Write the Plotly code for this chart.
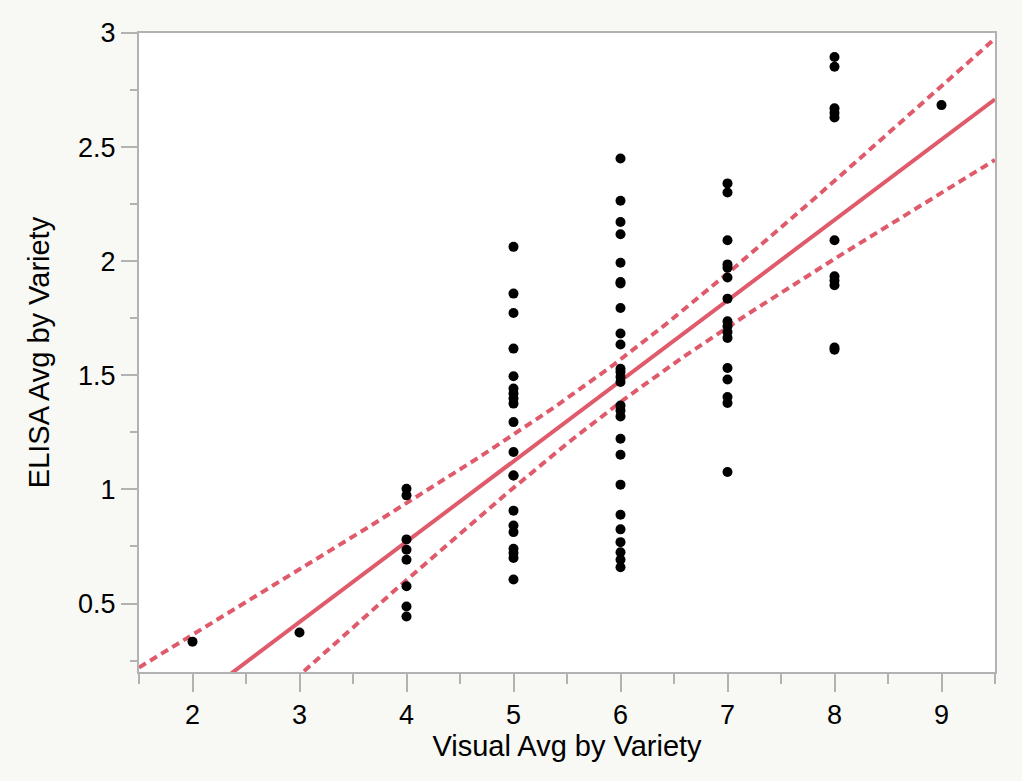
import numpy as np
import plotly.graph_objects as go

# Data
visual_levels = [2, 3, 4, 5, 6, 7, 8, 9]
elisa_by_level = {
    2: [0.333],
    3: [0.373],
    4: [1.003, 0.974, 0.781, 0.736, 0.692, 0.576, 0.487, 0.443],
    5: [2.063, 1.858, 1.773, 1.617, 1.496, 1.442, 1.420, 1.398, 1.376, 1.295,
        1.164, 1.061, 1.061, 0.907, 0.842, 0.813, 0.740, 0.721, 0.700, 0.605],
    6: [2.450, 2.265, 2.172, 2.118, 1.993, 1.909, 1.902, 1.795, 1.683, 1.635,
        1.529, 1.515, 1.493, 1.471, 1.368, 1.346, 1.320, 1.222, 1.152, 1.021,
        0.889, 0.825, 0.769, 0.725, 0.692, 0.659],
    7: [2.341, 2.301, 2.092, 1.986, 1.971, 1.929, 1.836, 1.737, 1.715, 1.690,
        1.664, 1.532, 1.482, 1.405, 1.379, 1.076],
    8: [2.895, 2.852, 2.670, 2.650, 2.630, 2.092, 1.934, 1.915, 1.895, 1.622, 1.612],
    9: [2.684],
}
# Fitted line (ELISA = intercept + slope * Visual)
fit_intercept = -0.639
fit_slope = 0.3525
x_ticks = [2, 3, 4, 5, 6, 7, 8, 9]
y_ticks = [0.5, 1, 1.5, 2, 2.5, 3]
x_range = [1.5, 9.5]
y_range = [0.2, 3.0]

x = np.array([v for v in visual_levels for _ in elisa_by_level[v]], dtype=float)
y = np.array([e for v in visual_levels for e in elisa_by_level[v]], dtype=float)

# 95% confidence band of the mean around the fitted line
n = len(x)
b1, b0 = np.polyfit(x, y, 1)
resid = y - (b0 + b1 * x)
s = np.sqrt(np.sum(resid ** 2) / (n - 2))
xbar = x.mean()
sxx = np.sum((x - xbar) ** 2)
t_crit = 1.99
xf = np.linspace(x_range[0], x_range[1], 200)
yf = fit_intercept + fit_slope * xf
half = t_crit * s * np.sqrt(1 / n + (xf - xbar) ** 2 / sxx)

red = "#DF5B6B"
fig = go.Figure()
fig.add_trace(go.Scatter(x=xf, y=yf + half, mode="lines",
                         line=dict(color=red, width=4, dash="8px,5px"), hoverinfo="skip"))
fig.add_trace(go.Scatter(x=xf, y=yf - half, mode="lines",
                         line=dict(color=red, width=4, dash="8px,5px"), hoverinfo="skip"))
fig.add_trace(go.Scatter(x=xf, y=yf, mode="lines",
                         line=dict(color=red, width=4), hoverinfo="skip"))
fig.add_trace(go.Scatter(x=x, y=y, mode="markers",
                         marker=dict(color="black", size=10, line=dict(width=0))))

font_family = "Liberation Sans, Arial, sans-serif"
gray = "#B2B2B2"
axis_common = dict(showgrid=False, zeroline=False, showline=True, linecolor=gray,
                   linewidth=2, mirror=True, ticks="outside", tickcolor=gray,
                   tickwidth=2, tickfont=dict(size=27, color="black", family=font_family))
fig.update_xaxes(range=x_range, tickvals=x_ticks, ticklen=18,
                 minor=dict(dtick=0.5, ticks="outside", ticklen=10, tickcolor=gray, tickwidth=2),
                 title=dict(text="Visual Avg by Variety", font=dict(size=29, color="black", family=font_family), standoff=4),
                 **axis_common)
fig.update_yaxes(range=y_range, tickvals=y_ticks, ticklen=16,
                 minor=dict(tickvals=[0.25, 0.75, 1.25, 1.75, 2.25, 2.75], ticks="outside", ticklen=7, tickcolor=gray, tickwidth=2),
                 title=dict(text="ELISA Avg by Variety", font=dict(size=29, color="black", family=font_family), standoff=20),
                 **axis_common)
fig.update_layout(width=1022, height=781, showlegend=False,
                  paper_bgcolor="#F8F8F4", plot_bgcolor="white",
                  margin=dict(l=139, r=27, t=33, b=109),
                  font=dict(family=font_family))
fig.write_html("out.html")
